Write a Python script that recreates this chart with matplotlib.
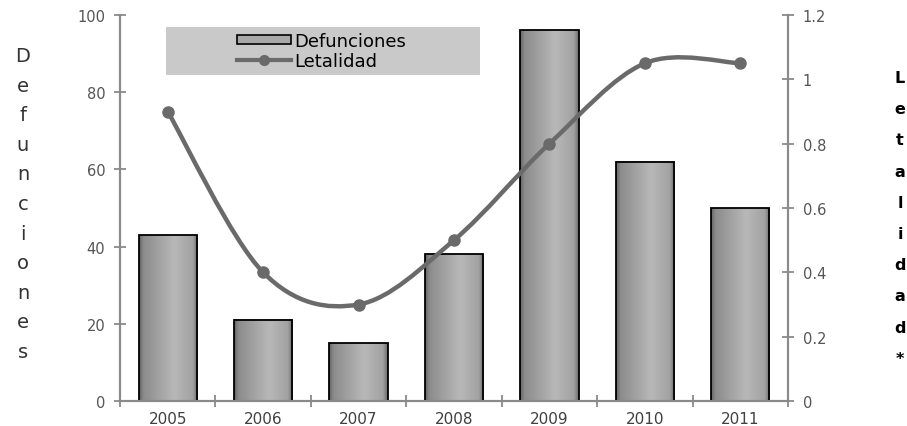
#!/usr/bin/env python3
import numpy as np
import matplotlib

matplotlib.use("Agg")
import matplotlib.pyplot as plt
from matplotlib.colors import LinearSegmentedColormap
from matplotlib.lines import Line2D
from matplotlib.patches import PathPatch, Rectangle
from matplotlib.path import Path
from matplotlib.ticker import FormatStrFormatter, MultipleLocator

years = ["2005", "2006", "2007", "2008", "2009", "2010", "2011"]
defunciones = [43, 21, 15, 38, 96, 62, 50]
letalidad = [0.9, 0.4, 0.3, 0.5, 0.8, 1.05, 1.05]

colors = {
    "axis": "#8a8a8a",
    "tick": "#555555",
    "line": "#6a6a6a",
    "legend_bg": "#c9c9c9",
}

plt.rcParams["font.family"] = ["DejaVu Sans"]

fig = plt.figure(figsize=(9.07, 4.27), dpi=100)
ax = fig.add_axes([120 / 907, 25 / 427, 668 / 907, 386 / 427])
ax2 = ax.twinx()

x = np.arange(len(years))
width = 0.61

# bars with a horizontal grey gradient
cmap = LinearSegmentedColormap.from_list(
    "bar", [(0, "#666666"), (0.07, "#8c8c8c"), (0.6, "#b8b8b8"),
            (0.92, "#a2a2a2"), (1, "#6e6e6e")]
)
grad = np.linspace(0, 1, 64).reshape(1, -1)
bars = ax.bar(x, defunciones, width=width, facecolor="none",
              edgecolor="black", linewidth=1.3, zorder=3)
for b in bars:
    ax.imshow(grad, cmap=cmap, aspect="auto", zorder=2,
              extent=[b.get_x(), b.get_x() + b.get_width(), 0, b.get_height()])

ax.set_xlim(-0.5, len(years) - 0.5)
ax.set_ylim(0, 100)
ax2.set_ylim(0, 1.2)

# smoothed line (Catmull-Rom style bezier, like a spreadsheet smoothed line)
pts = np.column_stack([x, letalidad]).astype(float)
verts = [pts[0]]
codes = [Path.MOVETO]
n = len(pts)
for i in range(n - 1):
    p0 = pts[max(i - 1, 0)]
    p1 = pts[i]
    p2 = pts[i + 1]
    p3 = pts[min(i + 2, n - 1)]
    verts += [p1 + (p2 - p0) / 6, p2 - (p3 - p1) / 6, p2]
    codes += [Path.CURVE4] * 3
ax2.add_patch(PathPatch(Path(verts, codes), facecolor="none",
                        edgecolor=colors["line"], linewidth=3.2,
                        capstyle="round", zorder=4))
ax2.plot(x, letalidad, "o", color=colors["line"], markersize=8, zorder=5)

# axes styling
ax.set_xticks(x, labels=years)
ax.xaxis.set_minor_locator(MultipleLocator(1, offset=0.5))
ax.tick_params(axis="x", which="major", length=0, pad=7,
               labelsize=11, labelcolor="#404040")
ax.tick_params(axis="x", which="minor", direction="inout", length=9,
               color=colors["axis"], width=1.3)
ax.yaxis.set_major_locator(MultipleLocator(20))
ax.tick_params(axis="y", direction="inout", length=9, width=1.3,
               color=colors["axis"], labelsize=10.5, labelcolor=colors["tick"], pad=6)
ax2.yaxis.set_major_locator(MultipleLocator(0.2))
ax2.yaxis.set_major_formatter(FormatStrFormatter("%g"))
ax2.tick_params(axis="y", direction="inout", length=9, width=1.3,
                color=colors["axis"], labelsize=10.5, labelcolor=colors["tick"], pad=6)

for a in (ax, ax2):
    a.spines["top"].set_visible(False)
    for s in ("left", "right", "bottom"):
        a.spines[s].set_color(colors["axis"])
        a.spines[s].set_linewidth(1.5)
ax.set_zorder(ax2.get_zorder() - 1)
ax2.patch.set_visible(False)

# legend on grey block
ax2.add_patch(Rectangle((0.069, 0.845), 0.47, 0.124, transform=ax2.transAxes,
                        facecolor=colors["legend_bg"], edgecolor="none", zorder=6))
handles = [
    Rectangle((0, 0), 1, 1, facecolor="#a8a8a8", edgecolor="black", linewidth=1.2),
    Line2D([], [], color=colors["line"], linewidth=3, marker="o", markersize=7),
]
leg = ax2.legend(handles, ["Defunciones", "Letalidad"], loc="center left",
                 bbox_to_anchor=(0.162, 0.907), frameon=False, fontsize=13,
                 handlelength=3.0, handleheight=0.45, handletextpad=0.15,
                 labelspacing=0.1, borderpad=0)
leg.set_zorder(7)

# stacked vertical axis titles
for i, ch in enumerate("Defunciones"):
    fig.text(23 / 907, 1 - (62 + i * 29.6) / 427, ch, ha="center",
             va="baseline", fontsize=14, color="#333333")
for i, ch in enumerate("Letalidad*"):
    fig.text(900 / 907, 1 - (83 + i * 31.2) / 427, ch, ha="center",
             va="baseline", fontsize=11.5, fontweight="bold", color="black")

fig.savefig("out.png", dpi=100)
